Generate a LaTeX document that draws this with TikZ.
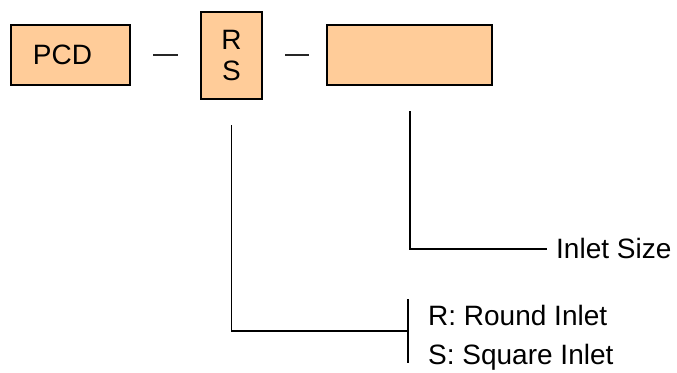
\documentclass[tikz,border=0pt]{standalone}
\usepackage{fontspec}
\setmainfont{Liberation Sans}
\usetikzlibrary{calc}
\definecolor{peach}{HTML}{FFCC99}
\tikzset{
  codebox/.style={draw=black, fill=peach, line width=2pt, inner sep=0pt, font=\fontsize{28}{31}\selectfont, align=center},
  lbl/.style={inner sep=0pt, anchor=base west, font=\fontsize{28}{32}\selectfont},
  conn/.style={draw=black, line width=1.5pt},
  sep/.style={draw=black!85, line width=1.5pt}
}
\begin{document}
\begin{tikzpicture}[x=1pt,y=-1pt]
\useasboundingbox (0,0) rectangle (677,372);
% boxes
\node[codebox, minimum width=119pt, minimum height=60pt] (pcd) at (70.5,55) {PCD\hspace*{16pt}};
\node[codebox, minimum width=61pt, minimum height=87pt] (rs) at (231.5,55.5) {R\\S};
\node[codebox, minimum width=165pt, minimum height=60pt] (size) at (409.5,55) {};
% separators
\coordinate (d1a) at (153,55); \coordinate (d1b) at (178,55);
\coordinate (d2a) at (285,55); \coordinate (d2b) at (309,55);
\draw[sep] (d1a) -- (d1b);
\draw[sep] (d2a) -- (d2b);
% labels
\node[lbl] (inlet) at (556,258) {Inlet Size};
\node[lbl] (round) at (428,325) {R: Round Inlet};
\node[lbl] (square) at (428,364) {S: Square Inlet};
% connector coordinates
\coordinate (rsTop) at (rs.south |- 0,125);
\coordinate (rsCorner) at (rs.south |- 0,331);
\coordinate (brMid) at (408,331);
\coordinate (brTop) at (408,299);
\coordinate (brBot) at (408,363);
\coordinate (szTop) at (410,111);
\coordinate (szCorner) at (410,249);
\coordinate (szEnd) at (547,249);
% connectors
\draw[conn] (rsTop) -- (rsCorner) -- (brMid);
\draw[conn] (brTop) -- (brBot);
\draw[conn] (szTop) -- (szCorner) -- (szEnd);
\end{tikzpicture}
\end{document}
